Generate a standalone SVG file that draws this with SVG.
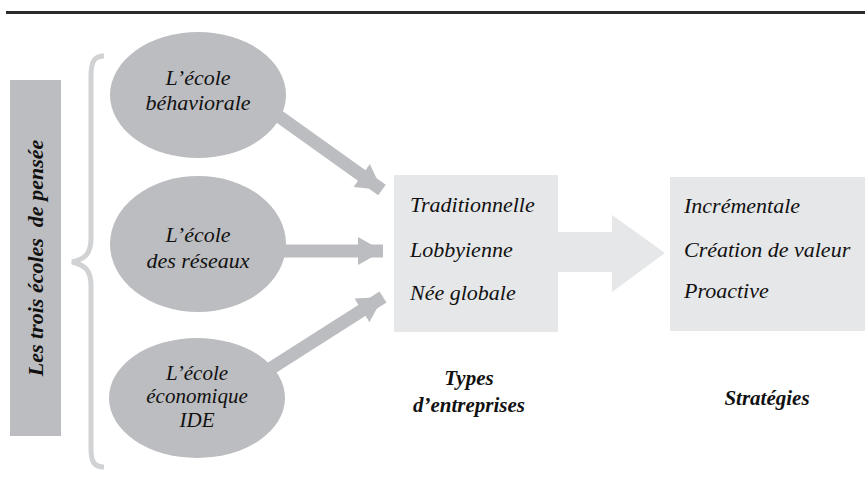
<svg xmlns="http://www.w3.org/2000/svg" width="865" height="497" viewBox="0 0 865 497">
<style>
.ell{fill:#bcbdc0}
.box{fill:#e6e7e8}
.t{font-style:italic;font-size:22px;fill:#111}
.s{font-size:21px}
.b{font-style:italic;font-weight:bold;font-size:21px;fill:#111}
.conn{stroke:#bcbdc0;stroke-width:13;fill:none}
</style>
<defs>
<marker id="ah" markerUnits="userSpaceOnUse" markerWidth="26" markerHeight="28" viewBox="0 0 26 28" refX="25" refY="14" orient="auto">
<path d="M0,0 L25,14 L0,28 Z" fill="#bcbdc0"/>
</marker>
</defs>
<g font-family="Liberation Serif, serif">
<rect x="6" y="11" width="859" height="3" fill="#2b2b2b"/>
<g id="title">
<rect x="10" y="80" width="51" height="356" fill="#bcbdc0"/>
<text class="b" text-anchor="middle" transform="translate(43,258) rotate(-90)" xml:space="preserve" style="font-size:22px">Les trois écoles  de pensée</text>
</g>
<g id="brace">
<path d="M104,56 C94,56 91,62 91,76 L91,238 C91,254 85,259 72,262 C85,265 91,270 91,286 L91,448 C91,462 94,467 104,467" fill="none" stroke="#d1d2d4" stroke-width="5"/>
</g>
<g id="connectors">
<line class="conn" x1="270" y1="110" x2="382" y2="190" marker-end="url(#ah)"/>
<line class="conn" x1="280" y1="251" x2="383" y2="251" marker-end="url(#ah)"/>
<line class="conn" x1="262" y1="374" x2="383" y2="297" marker-end="url(#ah)"/>
<path d="M556,232 L612,232 L612,215 L665,253 L612,292 L612,272 L556,272 Z" fill="#e6e7e8"/>
</g>
<g id="e1">
<ellipse class="ell" cx="198" cy="95" rx="88" ry="63"/>
<text class="t" x="198" y="85" text-anchor="middle">L’école</text>
<text class="t" x="198" y="110" text-anchor="middle">béhaviorale</text>
</g>
<g id="e2">
<ellipse class="ell" cx="198" cy="244" rx="88" ry="68"/>
<text class="t" x="198" y="242" text-anchor="middle">L’école</text>
<text class="t" x="198" y="268" text-anchor="middle">des réseaux</text>
</g>
<g id="e3">
<ellipse class="ell" cx="197" cy="398" rx="88" ry="60"/>
<text class="t s" x="197" y="380" text-anchor="middle">L’école</text>
<text class="t s" x="197" y="403" text-anchor="middle">économique</text>
<text class="t s" x="197" y="427" text-anchor="middle">IDE</text>
</g>
<g id="types">
<rect class="box" x="394" y="175" width="164" height="157"/>
<text class="t" x="410" y="212">Traditionnelle</text>
<text class="t" x="410" y="257">Lobbyienne</text>
<text class="t" x="410" y="300">Née globale</text>
</g>
<g id="strategies">
<rect class="box" x="670" y="177" width="195" height="154"/>
<text class="t" x="684" y="213">Incrémentale</text>
<text class="t" x="684" y="257">Création de valeur</text>
<text class="t" x="684" y="298">Proactive</text>
</g>
<g id="labels">
<text class="b" x="469" y="385" text-anchor="middle">Types</text>
<text class="b" x="469" y="412" text-anchor="middle">d’entreprises</text>
<text class="b" x="767" y="405" text-anchor="middle">Stratégies</text>
</g>
</g>
</svg>
